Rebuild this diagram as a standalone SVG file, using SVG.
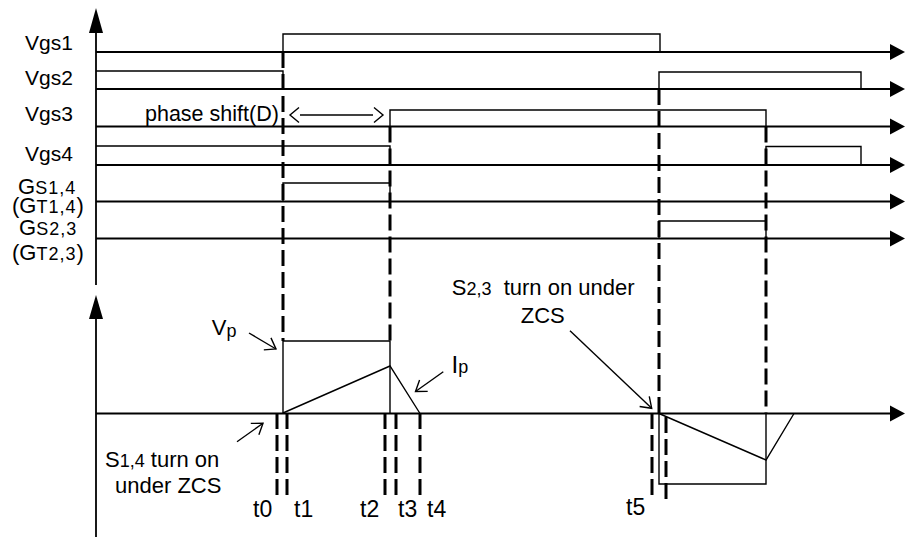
<svg xmlns="http://www.w3.org/2000/svg" width="906" height="537" viewBox="0 0 906 537">
<defs>
<style>
.ax{stroke:#000;stroke-width:1.8;fill:none}
.sig{stroke:#000;stroke-width:1.4;fill:none}
.dash{stroke:#000;stroke-width:3;fill:none;stroke-dasharray:16 6}
.ann{stroke:#000;stroke-width:1.4;fill:none}
.head{fill:#000;stroke:none}
text{font-family:"Liberation Sans",Arial,sans-serif;fill:#000}
.lb{font-size:21px}
.big{font-size:22px}
.sm{font-size:18px}
.t{font-size:23px}
</style>
<marker id="open" viewBox="-12 -9 14 18" markerWidth="14" markerHeight="18" refX="0" refY="0" orient="auto" markerUnits="userSpaceOnUse">
<path d="M-10,-7 L0,0 L-10,7" fill="none" stroke="#000" stroke-width="1.4"/>
</marker>
</defs>
<rect width="906" height="537" fill="#fff"/>

<g id="axes">
<line class="ax" x1="96" y1="30" x2="96" y2="285"/>
<polygon class="head" points="96,8 89,33 103,33"/>
<line class="ax" x1="96" y1="316" x2="96" y2="537"/>
<polygon class="head" points="96,295 89,319 103,319"/>
<g id="baselines">
<line class="ax" x1="96" y1="52" x2="892" y2="52"/>
<polygon class="head" points="890,44 905,52 890,60"/>
<line class="ax" x1="96" y1="89" x2="892" y2="89"/>
<polygon class="head" points="890,81 905,89 890,97"/>
<line class="ax" x1="96" y1="126.5" x2="892" y2="126.5"/>
<polygon class="head" points="890,118.5 905,126.5 890,134.5"/>
<line class="ax" x1="96" y1="165" x2="892" y2="165"/>
<polygon class="head" points="890,157 905,165 890,173"/>
<line class="ax" x1="96" y1="201.5" x2="892" y2="201.5"/>
<polygon class="head" points="890,193.5 905,201.5 890,209.5"/>
<line class="ax" x1="96" y1="238.5" x2="892" y2="238.5"/>
<polygon class="head" points="890,230.5 905,238.5 890,246.5"/>
<line class="ax" x1="96" y1="413.5" x2="892" y2="413.5"/>
<polygon class="head" points="890,405.5 905,413.5 890,421.5"/>
</g>
</g>

<g id="signals">
<path id="vgs1" class="sig" d="M283,52 V34 H660 V52"/>
<path id="vgs2" class="sig" d="M96,71 H283 V89 M659,89 V72 H861 V89"/>
<path id="vgs3" class="sig" d="M390,126.5 V110 H766 V126.5"/>
<path id="vgs4" class="sig" d="M96,146 H390 V165 M766,165 V146.5 H861 V165"/>
<path id="gs14" class="sig" d="M283,201.5 V183 H390 V201.5"/>
<path id="gs23" class="sig" d="M659,238.5 V221 H766 V238.5"/>
<path id="vp" class="sig" d="M283,413.5 V341 H390 V413.5 M659,413.5 V484 H766 V413.5"/>
<path id="ip" class="sig" d="M283,413 L390,366 L420,413.5 M659,413.5 L766,460 L794,413.5"/>
</g>

<g id="dashed">
<line class="dash" x1="283" y1="52" x2="283" y2="341"/>
<line class="dash" x1="390" y1="126.5" x2="390" y2="341"/>
<line class="dash" x1="659" y1="89" x2="659" y2="413"/>
<line class="dash" x1="766" y1="126.5" x2="766" y2="413"/>
<line class="dash" x1="277" y1="413" x2="277" y2="500"/>
<line class="dash" x1="287" y1="413" x2="287" y2="500"/>
<line class="dash" x1="385" y1="413" x2="385" y2="500"/>
<line class="dash" x1="396" y1="413" x2="396" y2="500"/>
<line class="dash" x1="420" y1="413" x2="420" y2="500"/>
<line class="dash" x1="652" y1="413" x2="652" y2="499"/>
<line class="dash" x1="666" y1="417" x2="666" y2="502"/>
</g>

<g id="connectors">
<line class="ann" x1="300" y1="115" x2="373" y2="115"/>
<path class="ann" d="M299,107.5 L290,115 L299,122.5 M374,107.5 L383,115 L374,122.5"/>
<line class="ann" x1="249" y1="333" x2="276" y2="349" marker-end="url(#open)"/>
<line class="ann" x1="237" y1="441.7" x2="263" y2="423.3" marker-end="url(#open)"/>
<line class="ann" x1="443.3" y1="371.7" x2="415.5" y2="391.5" marker-end="url(#open)"/>
<line class="ann" x1="570" y1="330.7" x2="651.7" y2="408.3" marker-end="url(#open)"/>
</g>

<g id="labels">
<text class="lb" x="25" y="49.5">Vgs1</text>
<text class="lb" x="25" y="84.5">Vgs2</text>
<text class="lb" x="25" y="121">Vgs3</text>
<text class="lb" x="25" y="161">Vgs4</text>
<text class="big" x="18" y="194.3">G<tspan class="sm" letter-spacing="1">S1,4</tspan></text>
<text class="big" x="12" y="213.3">(G<tspan class="sm" letter-spacing="1">T1,4</tspan>)</text>
<text class="big" x="19" y="235">G<tspan class="sm" letter-spacing="1">S2,3</tspan></text>
<text class="big" x="12" y="260">(G<tspan class="sm" letter-spacing="1">T2,3</tspan>)</text>
<text x="145" y="121" style="font-size:21.5px">phase shift(D)</text>
<text class="big" x="211.7" y="335">V<tspan class="sm" dy="2">p</tspan></text>
<text x="451.5" y="372.7" style="font-size:24px">I<tspan class="sm">p</tspan></text>
<text class="big" x="105" y="467.3">S<tspan class="sm">1,4</tspan>  turn on</text>
<text class="big" x="115" y="493.3">under ZCS</text>
<text class="big" x="451.7" y="295" xml:space="preserve">S<tspan class="sm">2,3</tspan>  turn on under</text>
<text class="big" x="520.7" y="323.3">ZCS</text>
<text class="t" x="253" y="516.7">t0</text>
<text class="t" x="294" y="516.7">t1</text>
<text class="t" x="360" y="516.7">t2</text>
<text class="t" x="398" y="516.7">t3</text>
<text class="t" x="427" y="516.7">t4</text>
<text class="t" x="626" y="515">t5</text>
</g>
</svg>
